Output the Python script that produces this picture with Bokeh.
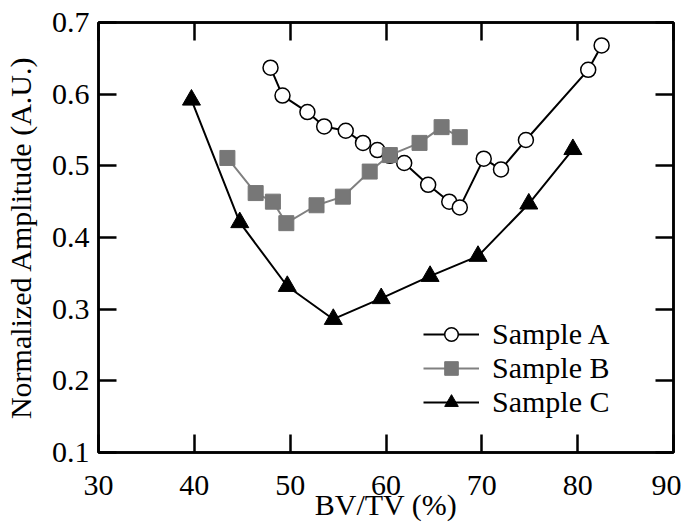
from bokeh.plotting import figure
from bokeh.models import LinearAxis, Legend, LegendItem, Range1d, FixedTicker
from bokeh.embed import file_html
from bokeh.resources import INLINE

# Sample A
a_x = [47.95, 49.2, 51.8, 53.55, 55.8, 57.6, 59.1, 60.4, 61.9, 64.4, 66.6, 67.7, 70.2, 72.0, 74.6, 81.1, 82.5]
a_y = [0.637, 0.598, 0.575, 0.555, 0.549, 0.532, 0.522, 0.514, 0.504, 0.4735, 0.450, 0.442, 0.510, 0.495, 0.536, 0.634, 0.668]
# Sample B
b_x = [43.45, 46.4, 48.2, 49.6, 52.75, 55.5, 58.3, 60.4, 63.5, 65.8, 67.7]
b_y = [0.511, 0.462, 0.450, 0.420, 0.445, 0.457, 0.492, 0.515, 0.532, 0.554, 0.540]
# Sample C
c_x = [39.7, 44.74, 49.7, 54.5, 59.5, 64.6, 69.6, 74.9, 79.5]
c_y = [0.592, 0.421, 0.332, 0.286, 0.315, 0.346, 0.374, 0.447, 0.523]

x_ticks = [30, 40, 50, 60, 70, 80, 90]
y_ticks = [0.1, 0.2, 0.3, 0.4, 0.5, 0.6, 0.7]

FONT = "'Liberation Serif', 'Times New Roman', serif"
FS = "30px"

p = figure(width=681, height=524, output_backend="svg", toolbar_location=None,
           x_range=Range1d(30, 90), y_range=Range1d(0.1, 0.7),
           min_border_left=98, min_border_right=8, min_border_top=22, min_border_bottom=72)
p.grid.visible = False
p.outline_line_color = "black"
p.outline_line_width = 2.5
p.background_fill_color = "white"
p.border_fill_color = "white"

xb = p.xaxis[0]
xb.ticker = FixedTicker(ticks=x_ticks)
yl = p.yaxis[0]
yl.ticker = FixedTicker(ticks=y_ticks)
xt = LinearAxis(ticker=FixedTicker(ticks=x_ticks))
yr = LinearAxis(ticker=FixedTicker(ticks=y_ticks))
p.add_layout(xt, "above")
p.add_layout(yr, "right")

for ax in (xb, yl, xt, yr):
    ax.axis_line_width = 2.5
    ax.axis_line_color = "black"
    ax.major_tick_in = 18
    ax.major_tick_out = 0
    ax.major_tick_line_width = 2.5
    ax.minor_tick_line_color = None
    ax.major_label_text_font = FONT
    ax.major_label_text_font_size = FS
    ax.major_label_text_color = "black"
    ax.axis_label_text_font = FONT
    ax.axis_label_text_font_size = FS
    ax.axis_label_text_font_style = "normal"
    ax.axis_label_text_color = "black"

for ax in (xt, yr):
    ax.major_label_text_font_size = "0px"
    ax.major_label_standoff = 0
    ax.major_label_text_color = None

xb.axis_label = "BV/TV (%)"
xb.major_label_standoff = 23
xb.axis_label_standoff = -10
yl.axis_label = "Normalized Amplitude (A.U.)"
yl.major_label_standoff = 9
yl.axis_label_standoff = 12

la = p.line(a_x, a_y, line_color="black", line_width=2)
sa = p.scatter(a_x, a_y, marker="circle", size=15, fill_color="white", line_color="black", line_width=1.5)
lb = p.line(b_x, b_y, line_color="#808080", line_width=2)
sb = p.scatter(b_x, b_y, marker="square", size=15, fill_color="#777777", line_color="#777777", line_width=1)
lc = p.line(c_x, c_y, line_color="black", line_width=2)
sc = p.scatter(c_x, c_y, marker="triangle", size=18, fill_color="black", line_color="black", line_width=1)

legend = Legend(items=[
    LegendItem(label="Sample A", renderers=[la, sa]),
    LegendItem(label="Sample B", renderers=[lb, sb]),
    LegendItem(label="Sample C", renderers=[lc, sc]),
], location=(325, 33))
legend.background_fill_alpha = 0
legend.border_line_color = None
legend.label_text_font = FONT
legend.label_text_font_size = FS
legend.label_text_color = "black"
legend.glyph_width = 56
legend.glyph_height = 34
legend.label_height = 34
legend.spacing = 0
legend.padding = 0
legend.margin = 0
legend.label_standoff = 13
p.add_layout(legend, "center")

open("out.html", "w").write(file_html(p, INLINE))
